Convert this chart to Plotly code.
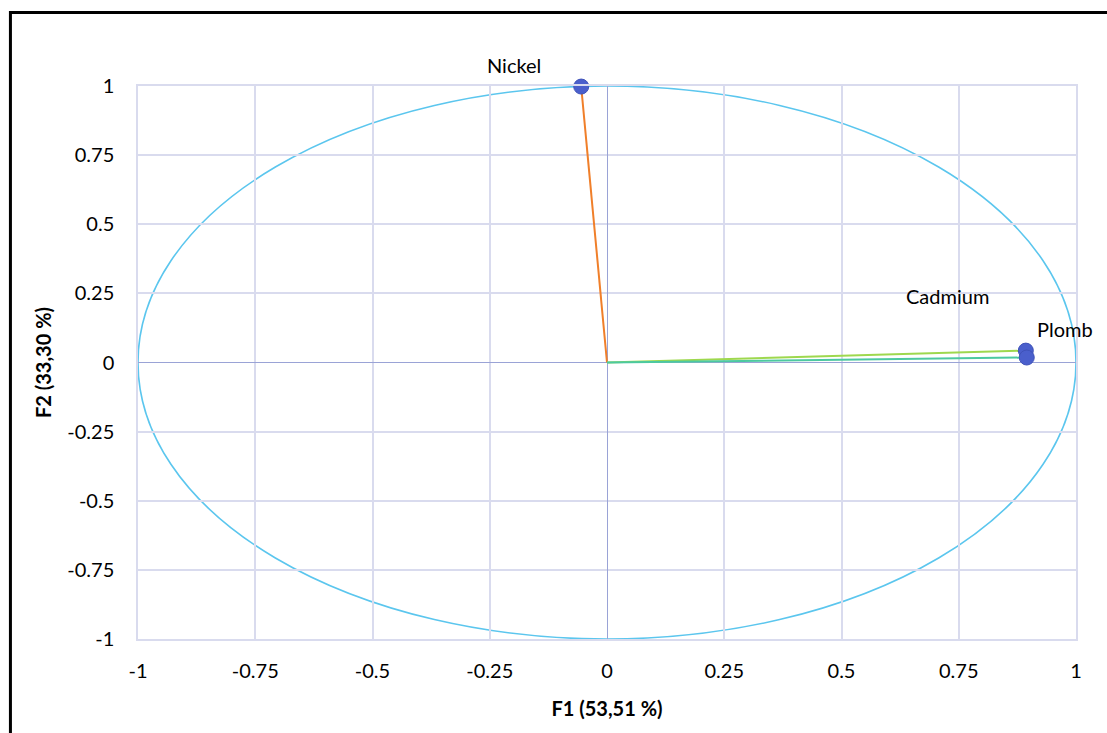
import plotly.graph_objects as go

# Correlation circle: variables projected on F1 / F2
variables = ["Nickel", "Cadmium", "Plomb"]
f1 = [-0.055, 0.893, 0.895]
f2 = [0.998, 0.043, 0.018]
line_colors = ["#F07F2A", "#9ED84E", "#4CC9A0"]
label_shift = [(-67, 22), (-78, 55), (38, 29)]

tick_vals = [-1, -0.75, -0.5, -0.25, 0, 0.25, 0.5, 0.75, 1]
tick_text = ["-1", "-0.75", "-0.5", "-0.25", "0", "0.25", "0.5", "0.75", "1"]

font_family = "Lato, 'Open Sans', sans-serif"
grid_color = "#D9DBEE"
zero_color = "#9AA3D6"

fig = go.Figure()

# vectors from origin
for name, x, y, c in zip(variables, f1, f2, line_colors):
    fig.add_trace(go.Scatter(x=[0, x], y=[0, y], mode="lines",
                             line=dict(color=c, width=2), showlegend=False,
                             hoverinfo="skip"))

# unit circle
fig.add_shape(type="circle", xref="x", yref="y", x0=-1, y0=-1, x1=1, y1=1,
              line=dict(color="#5BC6EE", width=1.6), layer="below")

# variable points
fig.add_trace(go.Scatter(x=f1, y=f2, mode="markers", cliponaxis=False,
                         marker=dict(size=15, color="#4A5FCC",
                                     line=dict(color="#3F52B8", width=1)),
                         text=variables, showlegend=False))

for name, x, y, (dx, dy) in zip(variables, f1, f2, label_shift):
    fig.add_annotation(x=x, y=y, text=name, showarrow=False,
                       xshift=dx, yshift=dy,
                       font=dict(size=20, color="#000000", family=font_family))

# outer frame
fig.add_shape(type="rect", xref="paper", yref="paper",
              x0=-0.136, y0=-0.25, x1=1.2, y1=1.133,
              line=dict(color="#000000", width=3), layer="below")

axis_common = dict(
    range=[-1, 1], tickvals=tick_vals, ticktext=tick_text,
    showgrid=True, gridcolor=grid_color, gridwidth=1.5,
    zeroline=True, zerolinecolor=zero_color, zerolinewidth=1.2,
    showline=True, linecolor=grid_color, linewidth=1.5, mirror=True,
    ticks="outside", tickcolor="rgba(0,0,0,0)",
    tickfont=dict(size=20),
)

fig.update_layout(
    width=1107, height=733,
    margin=dict(l=138, r=31, t=86, b=94),
    paper_bgcolor="white", plot_bgcolor="white",
    font=dict(family=font_family, size=20, color="#000000"),
    xaxis=dict(**axis_common, ticklen=13,
               title=dict(text="<b>F1 (53,51 %)</b>", font=dict(size=20),
                          standoff=21)),
    yaxis=dict(**axis_common, ticklen=18,
               title=dict(text="<b>F2 (33,30 %)</b>", font=dict(size=20),
                          standoff=10)),
)

fig.write_html("out.html")
